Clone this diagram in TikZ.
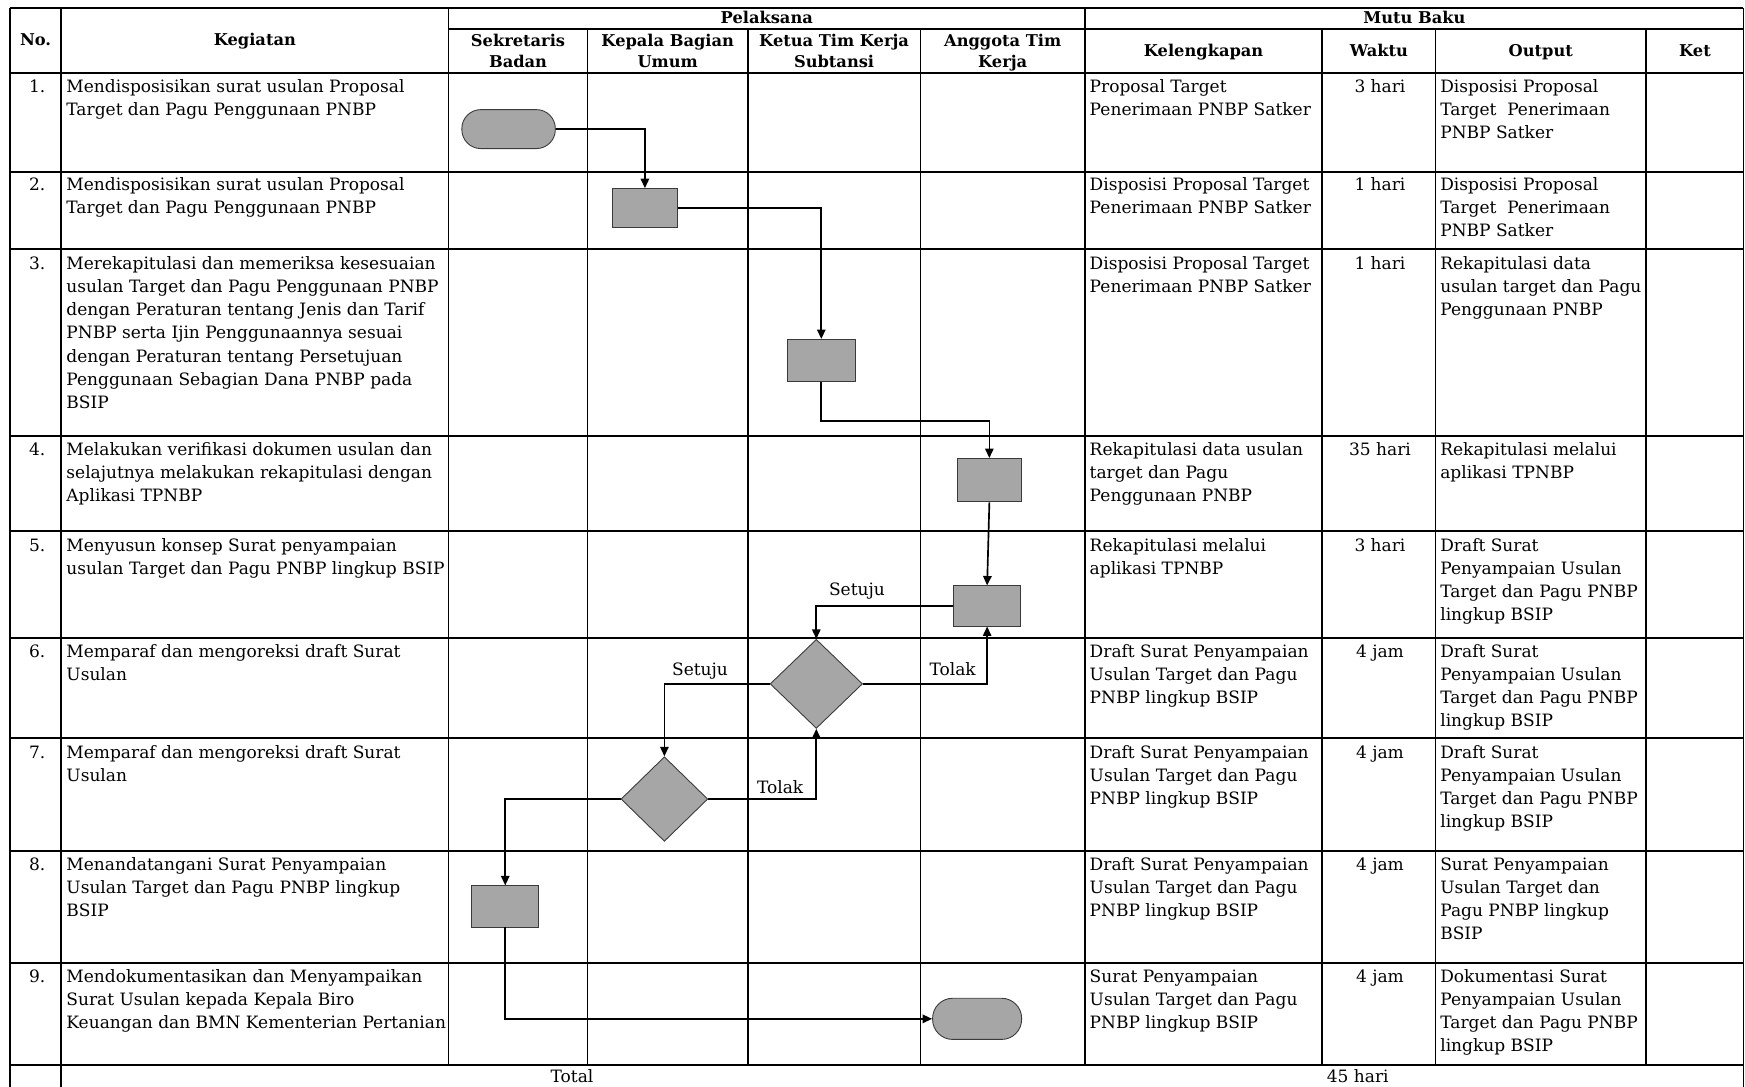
\documentclass[tikz,border=0pt]{standalone}
\usepackage{fontspec}
\setmainfont{DejaVu Serif}
\usetikzlibrary{arrows.meta,shapes.geometric}
\definecolor{shapegray}{HTML}{A6A6A6}
\definecolor{shapeedge}{HTML}{3A3A3A}
\newcommand{\ltab}[1]{\begin{tabular}[t]{@{}l@{}}#1\end{tabular}}
\newcommand{\ctab}[1]{\begin{tabular}[t]{@{}c@{}}#1\end{tabular}}
\begin{document}
\begin{tikzpicture}[x=1pt,y=-1pt,
  body/.style={anchor=base west,inner sep=0pt,font=\fontsize{15.3}{20.7}\selectfont},
  num/.style={anchor=base east,inner sep=0pt,font=\fontsize{15.3}{20.7}\selectfont},
  cbody/.style={anchor=base,inner sep=0pt,font=\fontsize{15.3}{20.7}\selectfont},
  hdr/.style={anchor=base,inner sep=0pt,font=\bfseries\fontsize{14.6}{19}\selectfont},
  hline/.style={line width=1.8pt},
  vline/.style={line width=1.5pt},
  proc/.style={rectangle,draw=shapeedge,fill=shapegray,line width=0.8pt,inner sep=0pt},
  term/.style={rectangle,rounded corners=17pt,draw=shapeedge,fill=shapegray,line width=0.8pt,inner sep=0pt},
  dec/.style={diamond,draw=shapeedge,fill=shapegray,line width=0.8pt,inner sep=0pt},
  conn/.style={line width=1.5pt,-{Triangle[length=8.5pt,width=7.5pt]}},
  lbl/.style={inner sep=0pt,font=\fontsize{15.3}{17}\selectfont}
]
\useasboundingbox (0,0) rectangle (1568,976);

% ---------- table grid ----------
\foreach \yy in {7,66,155,224,392,477,573,663,765,865,957}
  \draw[hline] (9,\yy) -- (1566.5,\yy);
\draw[hline] (403,26) -- (1566.5,26);
\foreach \xx in {9,55,1566.5}
  \draw[vline] (\xx,7) -- (\xx,980);
\foreach \xx in {403,975}
  \draw[vline] (\xx,7) -- (\xx,957);
\foreach \xx in {528,672,827,1188,1290,1479}
  \draw[vline] (\xx,26) -- (\xx,957);

% ---------- header ----------
\node[hdr] (hno) at (32,41) {No.};
\node[hdr] (hkeg) at (229,41) {Kegiatan};
\node[hdr] (hpel) at (689,21) {Pelaksana};
\node[hdr] (hmutu) at (1271,21) {Mutu Baku};
\node[hdr] (hsek) at (465.5,42) {\ctab{Sekretaris\\Badan}};
\node[hdr] (hkep) at (600,42) {\ctab{Kepala Bagian\\Umum}};
\node[hdr] (hket) at (749.5,42) {\ctab{Ketua Tim Kerja\\Subtansi}};
\node[hdr] (hang) at (901,42) {\ctab{Anggota Tim\\Kerja}};
\node[hdr] (hkel) at (1081.5,51) {Kelengkapan};
\node[hdr] (hwak) at (1239,51) {Waktu};
\node[hdr] (hout) at (1384.5,51) {Output};
\node[hdr] (hket2) at (1523,51) {Ket};

% ---------- rows ----------
% row 1
\node[num] (n1) at (41,83.5) {1.};
\node[body] (k1) at (59.5,83.5) {\ltab{Mendisposisikan surat usulan Proposal\\Target dan Pagu Penggunaan PNBP}};
\node[body] (l1) at (979,83.5) {\ltab{Proposal Target\\Penerimaan PNBP Satker}};
\node[cbody] (w1) at (1240,83.5) {3 hari};
\node[body] (o1) at (1294,83.5) {\ltab{Disposisi Proposal\\Target\ \ Penerimaan\\PNBP Satker}};
% row 2
\node[num] (n2) at (41,171.5) {2.};
\node[body] (k2) at (59.5,171.5) {\ltab{Mendisposisikan surat usulan Proposal\\Target dan Pagu Penggunaan PNBP}};
\node[body] (l2) at (979,171.5) {\ltab{Disposisi Proposal Target\\Penerimaan PNBP Satker}};
\node[cbody] (w2) at (1240,171.5) {1 hari};
\node[body] (o2) at (1294,171.5) {\ltab{Disposisi Proposal\\Target\ \ Penerimaan\\PNBP Satker}};
% row 3
\node[num] (n3) at (41,242.5) {3.};
\node[body] (k3) at (59.5,242.5) {\ltab{Merekapitulasi dan memeriksa kesesuaian\\usulan Target dan Pagu Penggunaan PNBP\\dengan Peraturan tentang Jenis dan Tarif\\PNBP serta Ijin Penggunaannya sesuai\\dengan Peraturan tentang Persetujuan\\Penggunaan Sebagian Dana PNBP pada\\BSIP}};
\node[body] (l3) at (979,242.5) {\ltab{Disposisi Proposal Target\\Penerimaan PNBP Satker}};
\node[cbody] (w3) at (1240,242.5) {1 hari};
\node[body] (o3) at (1294,242.5) {\ltab{Rekapitulasi data\\usulan target dan Pagu\\Penggunaan PNBP}};
% row 4
\node[num] (n4) at (41,409.5) {4.};
\node[body] (k4) at (59.5,409.5) {\ltab{Melakukan verifikasi dokumen usulan dan\\selajutnya melakukan rekapitulasi dengan\\Aplikasi TPNBP}};
\node[body] (l4) at (979,409.5) {\ltab{Rekapitulasi data usulan\\target dan Pagu\\Penggunaan PNBP}};
\node[cbody] (w4) at (1240,409.5) {35 hari};
\node[body] (o4) at (1294,409.5) {\ltab{Rekapitulasi melalui\\aplikasi TPNBP}};
% row 5
\node[num] (n5) at (41,495.5) {5.};
\node[body] (k5) at (59.5,495.5) {\ltab{Menyusun konsep Surat penyampaian\\usulan Target dan Pagu PNBP lingkup BSIP}};
\node[body] (l5) at (979,495.5) {\ltab{Rekapitulasi melalui\\aplikasi TPNBP}};
\node[cbody] (w5) at (1240,495.5) {3 hari};
\node[body] (o5) at (1294,495.5) {\ltab{Draft Surat\\Penyampaian Usulan\\Target dan Pagu PNBP\\lingkup BSIP}};
% row 6
\node[num] (n6) at (41,590.5) {6.};
\node[body] (k6) at (59.5,590.5) {\ltab{Memparaf dan mengoreksi draft Surat\\Usulan}};
\node[body] (l6) at (979,590.5) {\ltab{Draft Surat Penyampaian\\Usulan Target dan Pagu\\PNBP lingkup BSIP}};
\node[cbody] (w6) at (1240,590.5) {4 jam};
\node[body] (o6) at (1294,590.5) {\ltab{Draft Surat\\Penyampaian Usulan\\Target dan Pagu PNBP\\lingkup BSIP}};
% row 7
\node[num] (n7) at (41,681.5) {7.};
\node[body] (k7) at (59.5,681.5) {\ltab{Memparaf dan mengoreksi draft Surat\\Usulan}};
\node[body] (l7) at (979,681.5) {\ltab{Draft Surat Penyampaian\\Usulan Target dan Pagu\\PNBP lingkup BSIP}};
\node[cbody] (w7) at (1240,681.5) {4 jam};
\node[body] (o7) at (1294,681.5) {\ltab{Draft Surat\\Penyampaian Usulan\\Target dan Pagu PNBP\\lingkup BSIP}};
% row 8
\node[num] (n8) at (41,782.5) {8.};
\node[body] (k8) at (59.5,782.5) {\ltab{Menandatangani Surat Penyampaian\\Usulan Target dan Pagu PNBP lingkup\\BSIP}};
\node[body] (l8) at (979,782.5) {\ltab{Draft Surat Penyampaian\\Usulan Target dan Pagu\\PNBP lingkup BSIP}};
\node[cbody] (w8) at (1240,782.5) {4 jam};
\node[body] (o8) at (1294,782.5) {\ltab{Surat Penyampaian\\Usulan Target dan\\Pagu PNBP lingkup\\BSIP}};
% row 9
\node[num] (n9) at (41,882.5) {9.};
\node[body] (k9) at (59.5,882.5) {\ltab{Mendokumentasikan dan Menyampaikan\\Surat Usulan kepada Kepala Biro\\Keuangan dan BMN Kementerian Pertanian}};
\node[body] (l9) at (979,882.5) {\ltab{Surat Penyampaian\\Usulan Target dan Pagu\\PNBP lingkup BSIP}};
\node[cbody] (w9) at (1240,882.5) {4 jam};
\node[body] (o9) at (1294,882.5) {\ltab{Dokumentasi Surat\\Penyampaian Usulan\\Target dan Pagu PNBP\\lingkup BSIP}};
% total
\node[cbody] (tot) at (514,972.5) {Total};
\node[cbody] (totw) at (1220,972.5) {45 hari};

% ---------- flow shapes ----------
\node[term,minimum width=84pt,minimum height=35pt] (t1) at (457,116) {};
\node[proc,minimum width=59pt,minimum height=35pt] (b2) at (579.5,187) {};
\node[proc,minimum width=61pt,minimum height=38pt] (b3) at (738,324) {};
\node[proc,minimum width=58pt,minimum height=39pt] (b4) at (889,431.5) {};
\node[proc,minimum width=60pt,minimum height=36pt] (b5) at (887,544.5) {};
\node[dec,minimum width=83pt,minimum height=80pt] (d1) at (733.5,614.5) {};
\node[dec,minimum width=78pt,minimum height=76pt] (d2) at (597,718) {};
\node[proc,minimum width=60pt,minimum height=37pt] (b8) at (454,814.5) {};
\node[term,minimum width=80pt,minimum height=37pt,rounded corners=18pt] (t2) at (878,915.5) {};
\coordinate (k34) at (738,378);

% ---------- connectors ----------
\draw[conn] (t1.east) -| (b2.north);
\draw[conn] (b2.east) -| (b3.north);
\draw[conn] (b3.south) -- (k34) -| (b4.north);
\draw[conn] (b4.south) -- (b5.north);
\draw[conn] (b5.west) -| (d1.north);
\draw[conn] (d1.east) -| (b5.south);
\draw[conn] (d1.west) -| (d2.north);
\draw[conn] (d2.east) -| (d1.south);
\draw[conn] (d2.west) -| (b8.north);
\draw[conn] (b8.south) |- (t2.west);

% ---------- connector labels ----------
\node[lbl] (s1) at (770,531) {Setuju};
\node[lbl] (tl1) at (856,601) {Tolak};
\node[lbl] (s2) at (629,603) {Setuju};
\node[lbl] (tl2) at (701,707) {Tolak};
\end{tikzpicture}
\end{document}
